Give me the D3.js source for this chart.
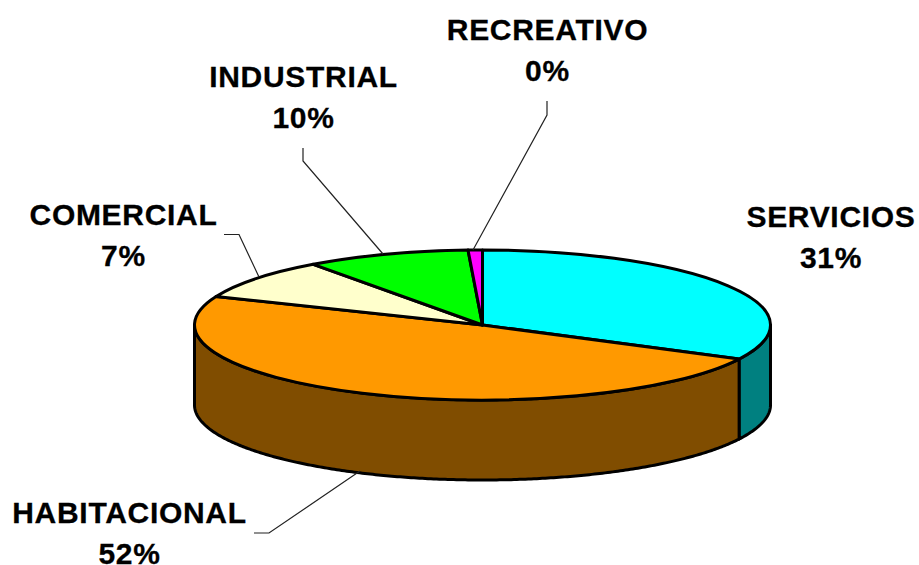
<!DOCTYPE html>
<html>
<head>
<meta charset="utf-8">
<script src="https://cdnjs.cloudflare.com/ajax/libs/d3/7.8.5/d3.min.js"></script>
<style>
  html, body { margin: 0; padding: 0; background: #fff; }
  svg { display: block; }
  text { font-family: "Liberation Sans", Arial, sans-serif; font-weight: bold; font-size: 30px; letter-spacing: 0.7px; fill: #000; stroke: #000; stroke-width: 0.3px; }
</style>
</head>
<body>
<svg id="chart" width="919" height="565"></svg>
<script>
const categories = ["SERVICIOS", "HABITACIONAL", "COMERCIAL", "INDUSTRIAL", "RECREATIVO"]
const percentLabels = ["31%", "52%", "7%", "10%", "0%"]
// slice shares as they are drawn in the picture (not the same as the printed labels)
const drawnShares = [32.5, 48.7, 8.8, 9.2, 0.8]
const topColors = ["#00ffff", "#ff9900", "#ffffcc", "#00ff00", "#ff00ff"]
const sideColors = ["#008080", "#804d00", "#808066", "#008000", "#800080"]

// label anchor and leader line for each category
const labelX = [831, 129.5, 123.5, 303.5, 547.5]
const labelY = [227, 523, 225, 87, 40]
const leaders = [
  [],
  [[254, 533], [269, 533], [360, 471]],
  [[224, 234.5], [239, 234.5], [259, 277]],
  [[303, 148], [303, 161], [383, 254]],
  [[547, 101], [547, 115], [473, 250]],
]

const cx = 482.5, cy = 325, rx = 288, ry = 75, depth = 80

const svg = d3.select("#chart")

const arcs = d3.pie().sort(null).value((d) => d)(drawnShares)

function rimPoint(angle, dy = 0) {
  return [cx + rx * Math.sin(angle), cy + dy - ry * Math.cos(angle)]
}

// outline of the wall between two angles, only the front half of the rim shows
function wallPath(a0, a1) {
  const angles = d3.range(a0, a1, 0.01).concat(a1)
  const top = angles.map((a) => rimPoint(a))
  const bottom = angles.map((a) => rimPoint(a, depth)).reverse()
  return d3.line()(top.concat(bottom)) + "Z"
}

const walls = svg.append("g").attr("class", "walls")
arcs.forEach((d, i) => {
  const a0 = Math.max(d.startAngle, Math.PI / 2)
  const a1 = Math.min(d.endAngle, Math.PI * 1.5)
  if (a1 <= a0) return
  walls.append("path")
    .attr("d", wallPath(a0, a1))
    .attr("fill", sideColors[i])
    .attr("stroke", "#000")
    .attr("stroke-width", 3)
    .attr("stroke-linejoin", "round")
})

const arcGen = d3.arc().innerRadius(0).outerRadius(rx)

svg.append("g").attr("class", "slices")
  .attr("transform", `translate(${cx},${cy}) scale(1,${ry / rx})`)
  .selectAll("path")
  .data(arcs)
  .join("path")
    .attr("d", arcGen)
    .attr("fill", (_, i) => topColors[i])
    .attr("stroke", "#000")
    .attr("stroke-width", 3)
    .attr("stroke-linejoin", "round")
    .attr("vector-effect", "non-scaling-stroke")

svg.append("g").attr("class", "leaders")
  .selectAll("path")
  .data(leaders.filter((l) => l.length))
  .join("path")
    .attr("d", (d) => d3.line()(d))
    .attr("fill", "none")
    .attr("stroke", "#222")
    .attr("stroke-width", 1.2)

const labels = svg.append("g").attr("class", "labels")
  .selectAll("text")
  .data(categories)
  .join("text")
    .attr("text-anchor", "middle")
    .attr("x", (_, i) => labelX[i])
    .attr("y", (_, i) => labelY[i])

labels.append("tspan").text((d) => d)
labels.append("tspan")
  .attr("x", (_, i) => labelX[i])
  .attr("dy", 41)
  .text((_, i) => percentLabels[i])
</script>
</body>
</html>
